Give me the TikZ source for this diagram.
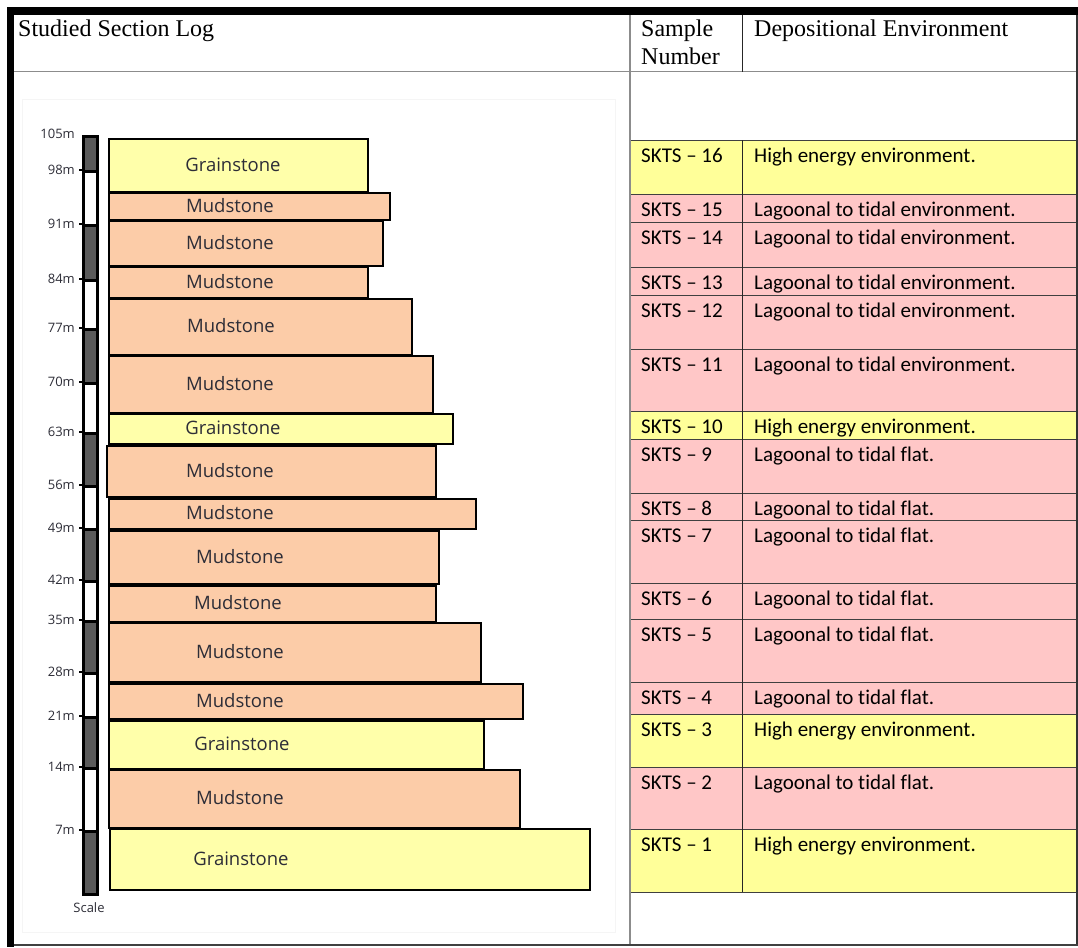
\documentclass[tikz,border=0pt]{standalone}
\usepackage{fontspec}
\setmainfont{Liberation Serif}
\newfontfamily\calfont[Ligatures=NoCommon]{Carlito}
\newfontfamily\osfont{Open Sans}
\definecolor{grainc}{RGB}{255,255,170}
\definecolor{mudc}{RGB}{252,204,168}
\definecolor{rowpink}{RGB}{255,199,199}
\definecolor{rowyel}{RGB}{255,255,153}
\definecolor{scdark}{RGB}{90,90,90}
\definecolor{logtxt}{RGB}{45,45,55}
\tikzset{
  x=1pt,y=-1pt,
  box/.style={draw=black,line width=2pt,inner sep=0pt,anchor=north west},
  laytext/.style={font=\osfont\fontsize{18.5}{18.5}\selectfont,text=logtxt,inner sep=0pt},
  scl/.style={font=\osfont\fontsize{13}{13}\selectfont,text=logtxt,inner sep=0pt},
  rowbox/.style={draw=black!75,line width=0.9pt,inner sep=0pt,anchor=north west,minimum width=447pt},
  tt/.style={font=\calfont\fontsize{21}{21}\selectfont,anchor=base west,inner sep=0pt},
  hdr/.style={font=\fontsize{24}{24}\selectfont,anchor=base west,inner sep=0pt},
  segbox/.style={draw=black,line width=2.5pt,inner sep=0pt,anchor=north west,minimum width=14pt},
}
\newcommand\lyr[8]{%
  \node[box,fill=#2,minimum width=#5pt,minimum height=#6pt] (#1) at (#3,#4) {};
  \node[laytext] (#1t) at (#7,{#4+#6/2}) {#8};}
\newcommand\trow[6]{%
  \node[rowbox,fill=#2,minimum height={#4pt-#3pt}] (#1) at (630,#3) {};
  \node[tt] (#1a) at (641,{#3+22}) {#5};
  \node[tt] (#1b) at (754,{#3+22}) {#6};}
\begin{document}
\begin{tikzpicture}
\useasboundingbox (0,0) rectangle (1078,947);
\fill[white] (0,0) rectangle (1078,947);
% log panel
\draw[black!4,line width=0.8pt] (22,99) rectangle (615,932);
% table rows
\trow{r16}{rowyel}{140}{194}{SKTS – 16}{High energy environment.}
\trow{r15}{rowpink}{194}{222}{SKTS – 15}{Lagoonal to tidal environment.}
\trow{r14}{rowpink}{222}{267}{SKTS – 14}{Lagoonal to tidal environment.}
\trow{r13}{rowpink}{267}{295}{SKTS – 13}{Lagoonal to tidal environment.}
\trow{r12}{rowpink}{295}{349}{SKTS – 12}{Lagoonal to tidal environment.}
\trow{r11}{rowpink}{349}{411}{SKTS – 11}{Lagoonal to tidal environment.}
\trow{r10}{rowyel}{411}{439}{SKTS – 10}{High energy environment.}
\trow{r9}{rowpink}{439}{493}{SKTS – 9}{Lagoonal to tidal flat.}
\trow{r8}{rowpink}{493}{520}{SKTS – 8}{Lagoonal to tidal flat.}
\trow{r7}{rowpink}{520}{583}{SKTS – 7}{Lagoonal to tidal flat.}
\trow{r6}{rowpink}{583}{619}{SKTS – 6}{Lagoonal to tidal flat.}
\trow{r5}{rowpink}{619}{682}{SKTS – 5}{Lagoonal to tidal flat.}
\trow{r4}{rowpink}{682}{714}{SKTS – 4}{Lagoonal to tidal flat.}
\trow{r3}{rowyel}{714}{767}{SKTS – 3}{High energy environment.}
\trow{r2}{rowpink}{767}{829}{SKTS – 2}{Lagoonal to tidal flat.}
\trow{r1}{rowyel}{829}{892}{SKTS – 1}{High energy environment.}
\draw[black!85,line width=1pt] (742,140) -- (742,892);
% frame
\draw[black!45,line width=1pt] (14,72) -- (1077,72);
\draw[black!45,line width=1.2pt] (630,15) -- (630,945);
\draw[black!85,line width=1pt] (742,15) -- (742,72);
\draw[black!80,line width=1.5pt] (1077,15) -- (1077,946);
\draw[black!75,line width=2pt] (14,945) -- (1078,945);
\fill[black] (7,7) rectangle (1078,15);
\fill[black] (7,7) rectangle (14,947);
% header text
\node[hdr] (h1) at (18,37) {Studied Section Log};
\node[hdr] (h2) at (641,37) {Sample};
\node[hdr] (h3) at (641,65) {Number};
\node[hdr] (h4) at (754,37) {Depositional Environment};
% scale bar
\foreach \a/\b/\c [count=\i] in {135/170/scdark,170/224/white,224/279/scdark,279/328/white,328/382/scdark,382/432/white,432/485/scdark,485/528/white,528/580/scdark,580/620/white,620/672/scdark,672/716/white,716/767/scdark,767/830/white,830/893/scdark}{
  \node[segbox,fill=\c,minimum height={\b pt-\a pt}] (s\i) at (82,\a) {};
}
\foreach \y/\t [count=\i] in {134/105m,170/98m,224/91m,279/84m,328/77m,382/70m,432/63m,485/56m,528/49m,580/42m,620/35m,672/28m,716/21m,767/14m,830/7m}{
  \node[scl,anchor=east] (sl\i) at (75,\y) {\t};
}
\foreach \y in {170,224,279,328,382,432,485,528,580,620,672,716,767,830}{
  \draw[black,line width=1.2pt] (79,\y) -- (82,\y);
}
\node[scl] (scale) at (89,908) {Scale};
% layers
\lyr{L16}{grainc}{108}{138}{259}{53}{233}{Grainstone}
\lyr{L15}{mudc}{108}{192}{281}{27}{230}{Mudstone}
\lyr{L14}{mudc}{108}{220}{274}{45}{230}{Mudstone}
\lyr{L13}{mudc}{108}{266}{259}{31}{230}{Mudstone}
\lyr{L12}{mudc}{108}{298}{303}{56}{231}{Mudstone}
\lyr{L11}{mudc}{108}{355}{324}{57}{230}{Mudstone}
\lyr{L10}{grainc}{108}{413}{344}{30}{233}{Grainstone}
\lyr{L9}{mudc}{106}{445}{329}{51}{230}{Mudstone}
\lyr{L8}{mudc}{108}{498}{367}{30}{230}{Mudstone}
\lyr{L7}{mudc}{108}{530}{330}{53}{240}{Mudstone}
\lyr{L6}{mudc}{108}{585}{327}{36}{238}{Mudstone}
\lyr{L5}{mudc}{108}{622}{372}{59}{240}{Mudstone}
\lyr{L4}{mudc}{108}{683}{414}{35}{240}{Mudstone}
\lyr{L3}{grainc}{108}{720}{375}{48}{242}{Grainstone}
\lyr{L2}{mudc}{108}{769}{411}{58}{240}{Mudstone}
\lyr{L1}{grainc}{109}{828}{480}{61}{241}{Grainstone}
\end{tikzpicture}
\end{document}
